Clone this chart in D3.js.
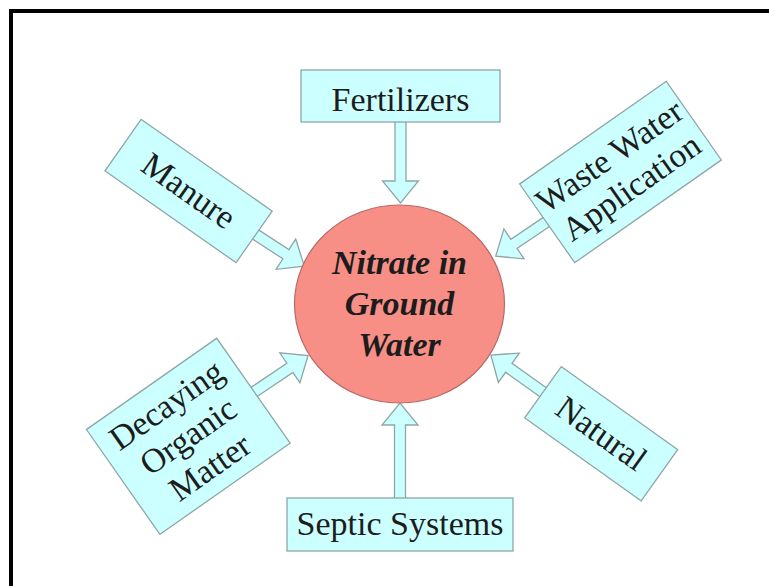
<!DOCTYPE html>
<html>
<head>
<meta charset="utf-8">
<script src="https://cdn.jsdelivr.net/npm/d3@7"></script>
<style>
  html, body { margin: 0; padding: 0; background: #fff; }
  svg { display: block; }
</style>
</head>
<body>
<svg id="chart" width="769" height="586"></svg>
<script>
// ---- data ----
const centerLabel = ["Nitrate in", "Ground", "Water"];
const sourceNames = ["Fertilizers", "Waste Water Application", "Natural", "Septic Systems", "Decaying Organic Matter", "Manure"];
const sourceLines = [
  ["Fertilizers"],
  ["Waste Water", "Application"],
  ["Natural"],
  ["Septic Systems"],
  ["Decaying", "Organic", "Matter"],
  ["Manure"]
];

// ---- layout (positions / sizes, kept apart from data) ----
const layout = [
  { cx: 400.5, cy: 96,    w: 199, h: 52,  rot: 0,     dir: 90,    d: 26,   len: 81, dy: 15 },
  { cx: 620.5, cy: 172,   w: 179, h: 96,  rot: -35,   dir: 146,   d: 89.5, len: 61, dy: 11 },
  { cx: 601.2, cy: 433.7, w: 143, h: 63,  rot: 35.5,  dir: 215.5, d: 71.5, len: 64, dy: 11 },
  { cx: 400,   cy: 524.5, w: 226, h: 53,  rot: 0,     dir: -90,   d: 26.5, len: 95, dy: 10.5 },
  { cx: 188.3, cy: 436.3, w: 159, h: 128, rot: -35,   dir: -34,   d: 79.5, len: 65, dy: 11 },
  { cx: 188.6, cy: 191,   w: 160, h: 63,  rot: 35,    dir: 33,    d: 80,   len: 58, dy: 11 }
];
const center = { cx: 399.5, cy: 304, rx: 105, ry: 99 };

const boxFill = "#ccffff", boxStroke = "#8fa6a6";
const circleFill = "#f78f87", circleStroke = "#b86a66";
const textColor = "#1c1c1c";
const serif = "'Liberation Serif', 'Times New Roman', 'DejaVu Serif', serif";
const fs = 34, lh = 38;

const svg = d3.select("#chart");

// frame (top and left borders)
svg.append("path")
  .attr("d", "M11,586 V11 H769")
  .attr("fill", "none")
  .attr("stroke", "#000")
  .attr("stroke-width", 4);

const sources = sourceNames.map((name, i) => ({ name, lines: sourceLines[i], ...layout[i] }));

// arrows
const sw = 5.5, hw = 18, hl = 22;
const arrowG = svg.append("g");
sources.forEach(s => {
  const rad = s.dir * Math.PI / 180;
  const sx = s.cx + (s.d - 1.5) * Math.cos(rad);
  const sy = s.cy + (s.d - 1.5) * Math.sin(rad);
  const L = s.len + 1.5;
  const g = arrowG.append("g")
    .attr("transform", `translate(${sx},${sy}) rotate(${s.dir})`);
  const pts = [[0, -sw], [L - hl, -sw], [L - hl, -hw], [L, 0], [L - hl, hw], [L - hl, sw], [0, sw]];
  g.append("polygon")
    .attr("points", pts.map(p => p.join(",")).join(" "))
    .attr("fill", boxFill)
    .attr("stroke", "none");
  g.append("path")
    .attr("d", d3.line()(pts))
    .attr("fill", "none")
    .attr("stroke", boxStroke)
    .attr("stroke-width", 1.3)
    .attr("stroke-linejoin", "miter");
});

// boxes
const boxG = svg.selectAll("g.box").data(sources).join("g")
  .attr("class", "box")
  .attr("transform", d => `translate(${d.cx},${d.cy}) rotate(${d.rot})`);
boxG.append("rect")
  .attr("x", d => -d.w / 2)
  .attr("y", d => -d.h / 2)
  .attr("width", d => d.w)
  .attr("height", d => d.h)
  .attr("fill", boxFill)
  .attr("stroke", boxStroke)
  .attr("stroke-width", 1.3);
boxG.each(function(d) {
  const n = d.lines.length;
  d3.select(this).selectAll("text").data(d.lines).join("text")
    .attr("x", 0)
    .attr("y", (t, i) => (i - (n - 1) / 2) * lh + d.dy)
    .attr("text-anchor", "middle")
    .attr("font-family", serif)
    .attr("font-size", fs)
    .attr("fill", textColor)
    .text(t => t);
});

// center circle
svg.append("ellipse")
  .attr("cx", center.cx).attr("cy", center.cy)
  .attr("rx", center.rx).attr("ry", center.ry)
  .attr("fill", circleFill)
  .attr("stroke", circleStroke)
  .attr("stroke-width", 1.2);
svg.append("g").selectAll("text").data(centerLabel).join("text")
  .attr("x", center.cx)
  .attr("y", (t, i) => center.cy + (i - 1) * 41 + 11)
  .attr("text-anchor", "middle")
  .attr("font-family", serif)
  .attr("font-size", fs)
  .attr("font-weight", "bold")
  .attr("font-style", "italic")
  .attr("fill", textColor)
  .text(t => t);
</script>
</body>
</html>
